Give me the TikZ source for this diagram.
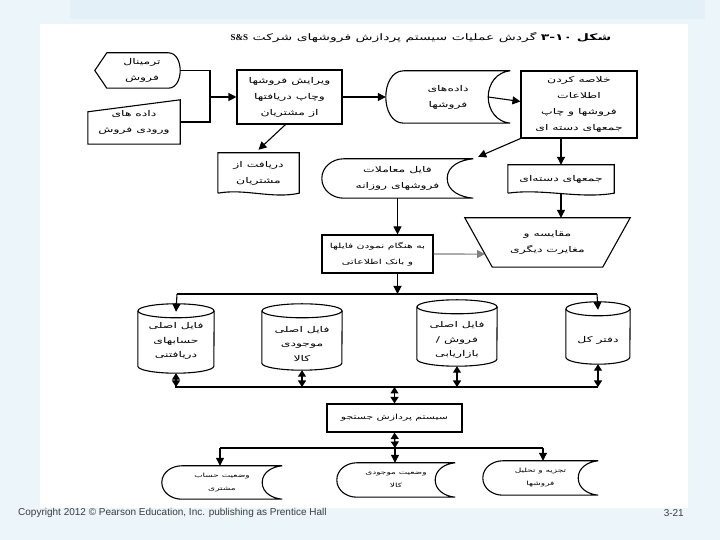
\documentclass[tikz,border=0pt]{standalone}
\usepackage{fontspec}
\setmainfont{Liberation Sans}
\newfontfamily\fa[Script=Arabic,FakeStretch=1.55]{DejaVu Sans}
\newfontfamily\serifb{Liberation Serif}
\TeXXeTstate=1
\usetikzlibrary{arrows.meta,calc}
\newcommand{\fatxt}[1]{\beginR#1\endR}
\definecolor{bgblue}{RGB}{235,245,250}
\definecolor{bandblue}{RGB}{228,240,247}
\definecolor{ctext}{RGB}{60,60,60}
\tikzset{
  ln/.style={line width=1.1pt, black},
  arr/.style={ln, -{Triangle[length=8pt,width=8pt]}},
  darr/.style={ln, {Triangle[length=6.5pt,width=8pt]}-{Triangle[length=6.5pt,width=8pt]}},
  txt/.style={font=\fa\fontsize{8}{16}\selectfont, align=center, inner sep=0pt},
  smalltxt/.style={font=\fa\fontsize{5.8}{13}\selectfont},
  cyltxt/.style={txt, font=\fa\fontsize{8}{14.5}\selectfont},
  procbox/.style={draw, line width=1.1pt, txt},
  ghost/.style={txt},
}
% storage (curved left, concave right): node, left bulge, right depth
\newcommand{\storpath}[3]{%
  \draw[ln] ($(#1.north west)+(#2,0)$) to[out=180,in=90] (#1.west)
    to[out=-90,in=180] ($(#1.south west)+(#2,0)$) -- (#1.south east)
    to[out=175,in=-90] ($(#1.east)+(-#3,0)$)
    to[out=90,in=185] (#1.north east) -- cycle;}
% cylinder: node, half width
\newcommand{\cylpath}[2]{%
  \draw[ln] ($(#1.north west)+(0,-7)$) -- ($(#1.south west)+(0,7)$)
    arc[start angle=180,end angle=360,x radius=#2,y radius=7]
    -- ($(#1.north east)+(0,-7)$);
  \draw[ln] ($(#1.north)+(0,-7)$) ellipse[x radius=#2,y radius=7];}
% document with wavy bottom
\newcommand{\docpath}[1]{%
  \draw[ln] (#1.south west) -- (#1.north west) -- (#1.north east) -- (#1.south east)
    .. controls ($(#1.south east)!0.33!(#1.south west)+(0,-6)$) and ($(#1.south east)!0.67!(#1.south west)+(0,5)$) .. (#1.south west);}
\begin{document}
\begin{tikzpicture}[x=1pt,y=1pt]
\useasboundingbox (0,0) rectangle (720,540);
\fill[bgblue] (0,0) rectangle (720,540);
\fill[bandblue] (70,521) rectangle (705,540);
\fill[white] (40,32) rectangle (688,516);

% title
\node[font=\fa\fontsize{9}{12}\selectfont, inner sep=0pt] (title) at (421,502)
 {\fatxt{\textbf{شکل \beginL۳-۱۰\endL} گردش عملیات سیستم پردازش فروشهای شرکت \beginL{\serifb\bfseries S\&S}\endL}};

% terminal
\node[ghost, minimum width=85, minimum height=35] (term) at (137.5,469.5) {};
\node[ghost] (termt) at (142,470) {\fatxt{ترمینال}\\\fatxt{فروش}};
\draw[ln] (term.west) -- ($(term.north west)+(12,0)$) -- ($(term.north east)+(-12,0)$)
  to[out=0,in=90] (term.east) to[out=-90,in=0] ($(term.south east)+(-12,0)$)
  -- ($(term.south west)+(12,0)$) -- cycle;

% manual input
\node[ghost, minimum width=92, minimum height=44] (manin) at (134,418)
 {\fatxt{داده های}\\\fatxt{ورودی فروش}};
\draw[ln] (manin.south west) -- ($(manin.north west)+(0,-12)$) -- (manin.north east)
  -- (manin.south east) -- cycle;

% edit box
\node[procbox, minimum width=105, minimum height=54] (edit) at (289.5,443)
 {\fatxt{ویرایش فروشها}\\\fatxt{وچاپ دریافتها}\\\fatxt{از مشتریان}};

\coordinate (j) at (210,443);
\draw[ln] (term.east) -| (j);
\draw[ln] (manin.east) -| (j);
\draw[arr] (j) -- (edit.west);

% sales data storage
\node[ghost, minimum width=124, minimum height=52] (sdata) at (448,443)
 {\fatxt{داده‌های}\\\fatxt{فروشها}};
\storpath{sdata}{18}{22}
\draw[arr] (edit.east) -- (sdata.west);

% summarize box
\node[procbox, minimum width=116, minimum height=67] (summ) at (579,435.5)
 {\fatxt{خلاصه کردن}\\\fatxt{اطلاعات}\\\fatxt{فروشها و چاپ}\\\fatxt{جمعهای دسته ای}};
\draw[arr] ($(sdata.east)+(-22,0)$) -- ($(summ.west)+(0,3)$);

% receipts document
\node[ghost, minimum width=81, minimum height=40] (rcpt) at (258.5,367)
 {\fatxt{دریافت از}\\\fatxt{مشتریان}};
\docpath{rcpt}
\draw[arr] ($(edit.south)+(-4,0)$) -- ($(rcpt.north)+(0,3)$);

% daily transactions file
\node[ghost, minimum width=151, minimum height=39] (daily) at (397.5,361.5)
 {\fatxt{فایل معاملات}\\\fatxt{فروشهای روزانه}};
\storpath{daily}{22}{26}
\draw[arr] (summ.south west) -- ($(daily.north east)+(5,2)$);

% batch totals
\node[ghost, minimum width=106, minimum height=28] (batch) at (561,361)
 {\fatxt{جمعهای دسته‌ای}};
\docpath{batch}
\draw[arr] (batch.north |- summ.south) -- (batch.north);

% update box
\node[procbox, font=\fa\fontsize{7}{16}\selectfont, minimum width=111, minimum height=38] (upd) at (377.5,286)
 {\fatxt{به هنگام نمودن فایلها}\\\fatxt{و بانک اطلاعاتی}};
\draw[arr] (daily.south) -- (daily.south |- upd.north);

% compare trapezoid
\node[ghost, minimum width=165, minimum height=49] (cmp) at (547.5,297.5)
 {\fatxt{مقایسه و}\\\fatxt{مغایرت دیگری}};
\draw[ln] (cmp.north west) -- (cmp.north east) -- ($(cmp.south east)+(-27.5,0)$)
  -- ($(cmp.south west)+(27.5,0)$) -- cycle;
\draw[arr] (batch.south) -- (batch.south |- cmp.north);
\coordinate (cmpin) at ($(cmp.north west)!{36/49}!($(cmp.south west)+(27.5,0)$)$);
\draw[arr, gray] (upd.east) -- (cmpin);

% upper bus
\coordinate (busL) at (177,246);
\coordinate (busR) at (597,246);
\draw[arr] (upd.south -| daily.south) -- (daily.south |- busL);
\draw[ln] (busL) -- (busR);

% cylinders
\node[ghost, minimum width=76, minimum height=69] (c1) at (176,201.5) {};
\cylpath{c1}{38}
\node[cyltxt] (c1t) at (176,199) {\fatxt{فایل اصلی}\\\fatxt{حسابهای}\\\fatxt{دریافتنی}};
\node[ghost, minimum width=80, minimum height=66] (c2) at (302,203) {};
\cylpath{c2}{40}
\node[cyltxt] (c2t) at (302,196) {\fatxt{فایل اصلی}\\\fatxt{موجودی}\\\fatxt{کالا}};
\node[ghost, minimum width=80, minimum height=66] (c3) at (457,207) {};
\cylpath{c3}{40}
\node[cyltxt] (c3t) at (457,200) {\fatxt{فایل اصلی}\\\fatxt{فروش /}\\\fatxt{بازاریابی}};
\node[ghost, minimum width=64, minimum height=62] (c4) at (598,207) {};
\cylpath{c4}{32}
\node[cyltxt] (c4t) at (598,200) {\fatxt{دفتر کل}};
\draw[arr] (busL) -- ($(c1.north)+(0,-8)$);
\draw[arr] (busR) -- ($(c4.north)+(0,-8)$);

% lower bus
\coordinate (lbusL) at (175,153);
\coordinate (lbusR) at (598,153);
\draw[ln] (lbusL) -- (lbusR);
\draw[darr] (c1.south) -- (c1.south |- lbusL);
\draw[darr] (c2.south) -- (c2.south |- lbusL);
\draw[darr] (c3.south) -- (c3.south |- lbusL);
\draw[darr] (c4.south) -- (c4.south |- lbusL);

% search system
\node[procbox, font=\fa\fontsize{7}{14}\selectfont, minimum width=135, minimum height=28] (srch) at (394.5,122)
 {\fatxt{سیستم پردازش جستجو}};
\draw[darr] (srch.north |- lbusL) -- (srch.north);

% outputs
\coordinate (obusL) at (220,92);
\coordinate (obusM) at (395,92);
\coordinate (obusR) at (543,92);
\draw[darr] (srch.south) -- (obusM);
\draw[ln] (obusL) -- (obusR);
\node[ghost, smalltxt, minimum width=120, minimum height=33] (o1) at (222,57.5)
 {\fatxt{وضعیت حساب}\\\fatxt{مشتری}};
\storpath{o1}{20}{20}
\node[ghost, smalltxt, minimum width=118, minimum height=34] (o2) at (396,60)
 {\fatxt{وضعیت موجودی}\\\fatxt{کالا}};
\storpath{o2}{20}{20}
\node[ghost, smalltxt, minimum width=115, minimum height=34] (o3) at (540.5,62)
 {\fatxt{تجزیه و تحلیل}\\\fatxt{فروشها}};
\storpath{o3}{20}{20}
\draw[arr] (obusL) -- (obusL |- o1.north);
\draw[arr] (obusM) -- (obusM |- o2.north);
\draw[arr] (obusR) -- (obusR |- o3.north);

% footer
\node[anchor=west, font=\fontsize{10}{12}\selectfont, text=ctext, inner sep=0pt] (copy) at (18,27)
 {Copyright 2012 © Pearson Education, Inc. publishing as Prentice Hall};
\node[anchor=east, font=\fontsize{10}{12}\selectfont, text=ctext, inner sep=0pt] (pnum) at (684,27) {3-21};
\end{tikzpicture}
\end{document}
